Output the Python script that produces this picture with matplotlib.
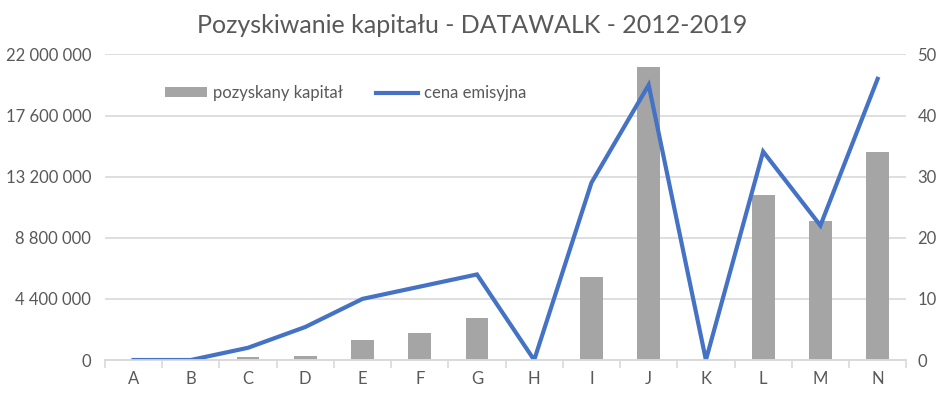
import matplotlib.pyplot as plt
import matplotlib.ticker as mticker
import numpy as np

plt.rcParams['font.family'] = ['Lato', 'DejaVu Sans']

# data
kategorie = ['A', 'B', 'C', 'D', 'E', 'F', 'G', 'H', 'I', 'J', 'K', 'L', 'M', 'N']
kapital = [0, 0, 200000, 290000, 1440000, 1950000, 3000000, 0,
           6000000, 21100000, 0, 11900000, 10000000, 15000000]
cena = [0, 0, 2.0, 5.4, 10.0, 12.0, 14.0, 0, 29.0, 45.0, 0, 34.1, 22.0, 46.0]

lewe_ticki = [0, 4400000, 8800000, 13200000, 17600000, 22000000]
prawe_ticki = [0, 10, 20, 30, 40, 50]

txt = '#595959'
grid_c = '#D9D9D9'

fig = plt.figure(figsize=(9.45, 3.99), dpi=100)
ax = fig.add_axes([0.111, 0.0977, 0.848, 0.766])
ax2 = ax.twinx()

x = np.arange(len(kategorie))
ax.bar(x, kapital, width=0.4, color='#A5A5A5', label='pozyskany kapitał', zorder=2)
ax2.plot(x, cena, color='#4472C4', lw=3, label='cena emisyjna', solid_joinstyle='miter')

ax.set_xlim(-0.5, len(kategorie) - 0.5)
ax.set_ylim(0, 22000000)
ax2.set_ylim(0, 50)
ax.set_yticks(lewe_ticki)
ax2.set_yticks(prawe_ticki)
ax.yaxis.set_major_formatter(mticker.FuncFormatter(lambda v, p: f'{int(v):,}'.replace(',', ' ')))

ax.set_xticks(x)
ax.set_xticklabels(kategorie)
ax.set_xticks(np.arange(-0.5, len(kategorie)), minor=True)
ax.tick_params(axis='x', which='major', length=0, pad=8, labelsize=12, labelcolor=txt)
ax.tick_params(axis='x', which='minor', length=6, color=grid_c, width=1.2)
ax.tick_params(axis='y', length=0, labelsize=12, labelcolor=txt, pad=10)
ax2.tick_params(axis='y', length=0, labelsize=12, labelcolor=txt, pad=8)

ax.grid(axis='y', color=grid_c, lw=1.2, zorder=0)
ax.set_axisbelow(True)
for a in (ax, ax2):
    for s in ['top', 'left', 'right']:
        a.spines[s].set_visible(False)
    a.spines['bottom'].set_color(grid_c)
    a.spines['bottom'].set_linewidth(1.2)

fig.suptitle('Pozyskiwanie kapitału - DATAWALK - 2012-2019', x=0.5, y=0.965,
             fontsize=18, color=txt)

h1, l1 = ax.get_legend_handles_labels()
h2, l2 = ax2.get_legend_handles_labels()
ax.legend(h1 + h2, l1 + l2, loc='center left', bbox_to_anchor=(0.065, 0.873), ncol=2,
          frameon=False, fontsize=12, labelcolor=txt, columnspacing=2.0,
          handlelength=2.5, handleheight=0.55, handletextpad=0.35, borderpad=0)

plt.savefig('out.png', dpi=100)
